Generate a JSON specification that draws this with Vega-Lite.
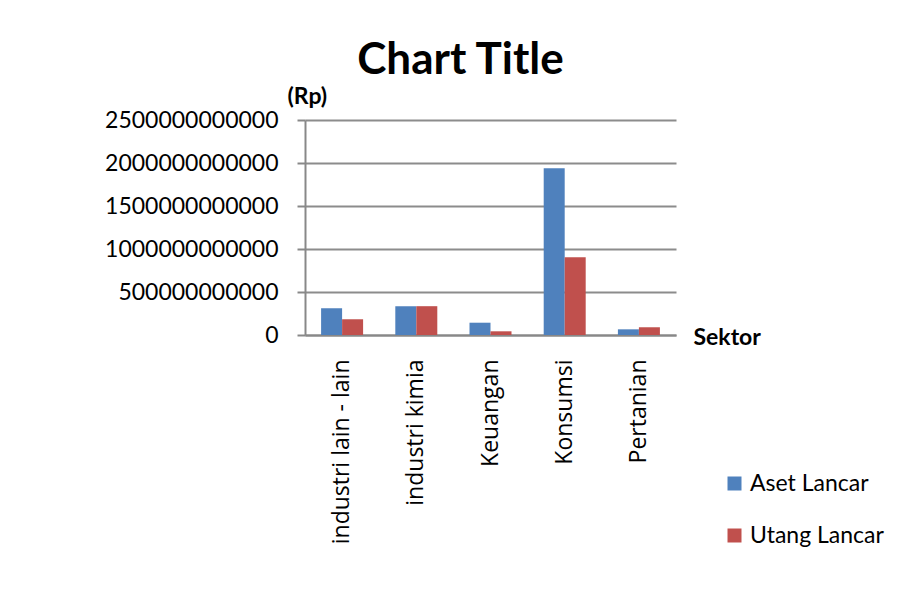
{
  "$schema": "https://vega.github.io/schema/vega-lite/v6.json",
  "width": 371,
  "height": 215,
  "autosize": {"type": "none"},
  "padding": {"left": 305, "top": 120, "right": 222, "bottom": 275},
  "background": "white",
  "title": {
    "text": "Chart Title",
    "font": "Lato",
    "fontSize": 44,
    "fontWeight": "bold",
    "color": "black",
    "anchor": "middle",
    "dx": -30,
    "offset": 2
  },
  "data": {
    "values": [
      {"sektor": "industri lain - lain", "seri": "Aset Lancar", "nilai": 310000000000},
      {"sektor": "industri lain - lain", "seri": "Utang Lancar", "nilai": 183000000000},
      {"sektor": "industri kimia", "seri": "Aset Lancar", "nilai": 335000000000},
      {"sektor": "industri kimia", "seri": "Utang Lancar", "nilai": 335000000000},
      {"sektor": "Keuangan", "seri": "Aset Lancar", "nilai": 143000000000},
      {"sektor": "Keuangan", "seri": "Utang Lancar", "nilai": 43000000000},
      {"sektor": "Konsumsi", "seri": "Aset Lancar", "nilai": 1940000000000},
      {"sektor": "Konsumsi", "seri": "Utang Lancar", "nilai": 903000000000},
      {"sektor": "Pertanian", "seri": "Aset Lancar", "nilai": 66000000000},
      {"sektor": "Pertanian", "seri": "Utang Lancar", "nilai": 90000000000}
    ]
  },
  "mark": {"type": "bar"},
  "encoding": {
    "x": {
      "field": "sektor",
      "type": "nominal",
      "sort": null,
      "scale": {"paddingInner": 0.434, "paddingOuter": 0.217},
      "axis": {
        "title": "Sektor",
        "titleFont": "Lato",
        "titleFontSize": 23,
        "titleFontWeight": "bold",
        "titleColor": "black",
        "titleAngle": 0,
        "titleAlign": "left",
        "titleBaseline": "middle",
        "titleX": 388,
        "titleY": 2,
        "labelAngle": -90,
        "labelAlign": "right",
        "labelBaseline": "middle",
        "labelFont": "Open Sans",
        "labelFontSize": 23,
        "labelLimit": 400,
        "labelColor": "black",
        "labelPadding": 24,
        "ticks": false,
        "tickSize": 0,
        "domainColor": "#888888",
        "domainWidth": 2,
        "grid": false
      }
    },
    "xOffset": {"field": "seri", "type": "nominal", "sort": ["Aset Lancar", "Utang Lancar"]},
    "y": {
      "field": "nilai",
      "type": "quantitative",
      "scale": {"domain": [0, 2500000000000], "nice": false},
      "axis": {
        "title": "(Rp)",
        "titleFont": "Lato",
        "titleFontSize": 23,
        "titleFontWeight": "bold",
        "titleColor": "black",
        "titleAngle": 0,
        "titleAlign": "left",
        "titleBaseline": "middle",
        "titleX": -18,
        "titleY": -24,
        "values": [0, 500000000000, 1000000000000, 1500000000000, 2000000000000, 2500000000000],
        "format": "d",
        "labelFont": "Lato",
        "labelFontSize": 23,
        "labelColor": "black",
        "labelPadding": 19,
        "tickSize": 8,
        "tickColor": "#888888",
        "tickWidth": 2,
        "domainColor": "#888888",
        "domainWidth": 2,
        "grid": true,
        "gridColor": "#8c8c8c",
        "gridWidth": 2
      }
    },
    "color": {
      "field": "seri",
      "type": "nominal",
      "scale": {"domain": ["Aset Lancar", "Utang Lancar"], "range": ["#4F81BD", "#C0504D"]},
      "legend": {
        "title": null,
        "orient": "none",
        "legendX": 418,
        "legendY": 352,
        "symbolType": "square",
        "symbolSize": 196,
        "symbolStrokeWidth": 0,
        "labelFont": "Lato",
        "labelFontSize": 23,
        "labelColor": "black",
        "labelOffset": 4,
        "rowPadding": 28
      }
    }
  },
  "config": {
    "view": {"stroke": null},
    "axis": {"labelOverlap": false}
  }
}
